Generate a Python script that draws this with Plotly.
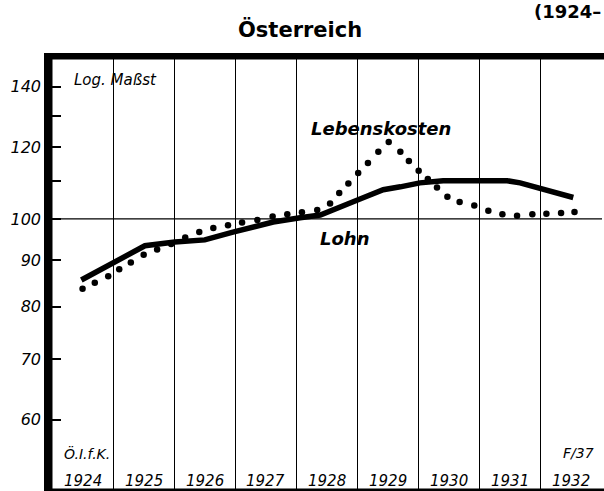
import math
import plotly.graph_objects as go

# ---- data ----
years = [1924, 1925, 1926, 1927, 1928, 1929, 1930, 1931, 1932]
year_labels = ["1924", "1925", "1926", "1927", "1928", "1929", "1930", "1931", "1932"]

# Lohn (wages), solid line
lohn_x = [1924.48, 1925.52, 1926.01, 1926.50, 1926.96, 1927.62, 1928.06, 1928.39,
          1929.04, 1929.42, 1929.70, 1930.02, 1930.40, 1931.45, 1931.66, 1932.04, 1932.53]
lohn_y = [85.6, 93.4, 94.3, 94.8, 96.7, 99.2, 100.3, 101.0,
          105.2, 107.7, 108.5, 109.6, 110.2, 110.2, 109.6, 107.9, 105.6]

# Lebenskosten (cost of living), dotted
leb_x = [1924.50, 1924.70, 1924.92, 1925.10, 1925.29, 1925.50, 1925.72, 1925.95,
         1926.18, 1926.41, 1926.64, 1926.88, 1927.11, 1927.36, 1927.61, 1927.85,
         1928.09, 1928.34, 1928.55, 1928.70, 1928.85, 1929.01, 1929.17, 1929.34,
         1929.51, 1929.70, 1929.84, 1930.00, 1930.15, 1930.30, 1930.47, 1930.67,
         1930.91, 1931.14, 1931.37, 1931.61, 1931.86, 1932.09, 1932.33, 1932.55]
leb_y = [83.7, 85.0, 86.4, 88.0, 89.5, 91.3, 92.5, 93.8,
         95.4, 96.7, 97.7, 98.4, 99.1, 99.7, 100.6, 101.2,
         101.7, 102.3, 104.0, 106.8, 109.4, 112.4, 115.3, 118.6,
         121.6, 118.6, 115.9, 113.0, 110.7, 108.3, 105.8, 104.4,
         103.5, 102.1, 101.2, 100.8, 101.2, 101.3, 101.5, 101.8]

base_line = [100, 100]
y_tick_vals = [60, 70, 80, 90, 100, 110, 120, 130, 140]
y_tick_text = ["60", "70", "80", "90", "100", "", "120", "", "140"]

# ---- layout geometry ----
W, H = 604, 491
L, R, T, B = 52, 2, 59, 2
PW, PH = W - L - R, H - T - B


def px(x):
    return (x - L) / PW


def py(y):
    return (H - B - y) / PH


FONT = "DejaVu Sans"

fig = go.Figure()
fig.add_trace(go.Scatter(x=[years[0], years[-1] + 1], y=base_line, mode="lines",
                         line=dict(color="black", width=1.3), hoverinfo="skip"))
fig.add_trace(go.Scatter(x=lohn_x, y=lohn_y, mode="lines",
                         line=dict(color="black", width=5.5), name="Lohn"))
fig.add_trace(go.Scatter(x=leb_x, y=leb_y, mode="markers",
                         marker=dict(color="black", size=6.5), name="Lebenskosten"))

annotations = [
    dict(text="<b>Österreich</b>", x=px(300), y=py(29), font=dict(size=21)),
    dict(text="<b>(1924–</b>", x=px(603), y=py(12), xanchor="right", font=dict(size=18)),
    dict(text="<i>Log. Maßst</i>", x=px(72), y=py(80), xanchor="left", font=dict(size=15)),
    dict(text="<b><i>Lebenskosten</i></b>", x=px(381), y=py(128), font=dict(size=18)),
    dict(text="<b><i>Lohn</i></b>", x=px(344), y=py(238), font=dict(size=18)),
    dict(text="<i>Ö.I.f.K.</i>", x=px(62), y=py(453), xanchor="left", font=dict(size=14)),
    dict(text="<i>F/37</i>", x=px(596), y=py(453), xanchor="right", font=dict(size=14)),
]
for yr, lab in zip(years, year_labels):
    annotations.append(dict(text="<i>" + lab + "</i>", x=yr + 0.5, xref="x", y=py(481),
                            font=dict(size=15)))
for a in annotations:
    a.setdefault("xref", "paper")
    a.setdefault("yref", "paper")
    a.setdefault("xanchor", "center")
    a.setdefault("yanchor", "middle")
    a["showarrow"] = False
    a["font"].update(family=FONT, color="black")

shapes = [
    dict(type="rect", xref="paper", yref="paper", x0=px(44), x1=px(52.5), y0=py(H), y1=py(53),
         fillcolor="black", line=dict(width=0)),
    dict(type="rect", xref="paper", yref="paper", x0=px(44), x1=px(W), y0=py(59.5), y1=py(53),
         fillcolor="black", line=dict(width=0)),
    dict(type="rect", xref="paper", yref="paper", x0=px(44), x1=px(W), y0=py(H), y1=py(488.5),
         fillcolor="black", line=dict(width=0)),
]

fig.update_layout(
    width=W, height=H,
    margin=dict(l=L, r=R, t=T, b=B),
    paper_bgcolor="white", plot_bgcolor="white",
    showlegend=False,
    annotations=annotations,
    shapes=shapes,
    xaxis=dict(range=[years[0], years[-1] + 1], tick0=years[0], dtick=1,
               showticklabels=False, ticks="", showgrid=True, gridcolor="black",
               gridwidth=1.2, zeroline=False, showline=False),
    yaxis=dict(type="log", range=[math.log10(50.3), math.log10(150.2)],
               tickmode="array", tickvals=y_tick_vals, ticktext=y_tick_text,
               ticks="inside", ticklen=9, tickwidth=1.5, tickcolor="black",
               ticklabelstandoff=10,
               tickfont=dict(family=FONT, size=16, color="black", style="italic"),
               showgrid=False, zeroline=False, showline=False),
)

fig.write_html("out.html", config={"displayModeBar": False},
               post_script="document.body.style.margin='0';document.body.style.overflow='hidden';")
